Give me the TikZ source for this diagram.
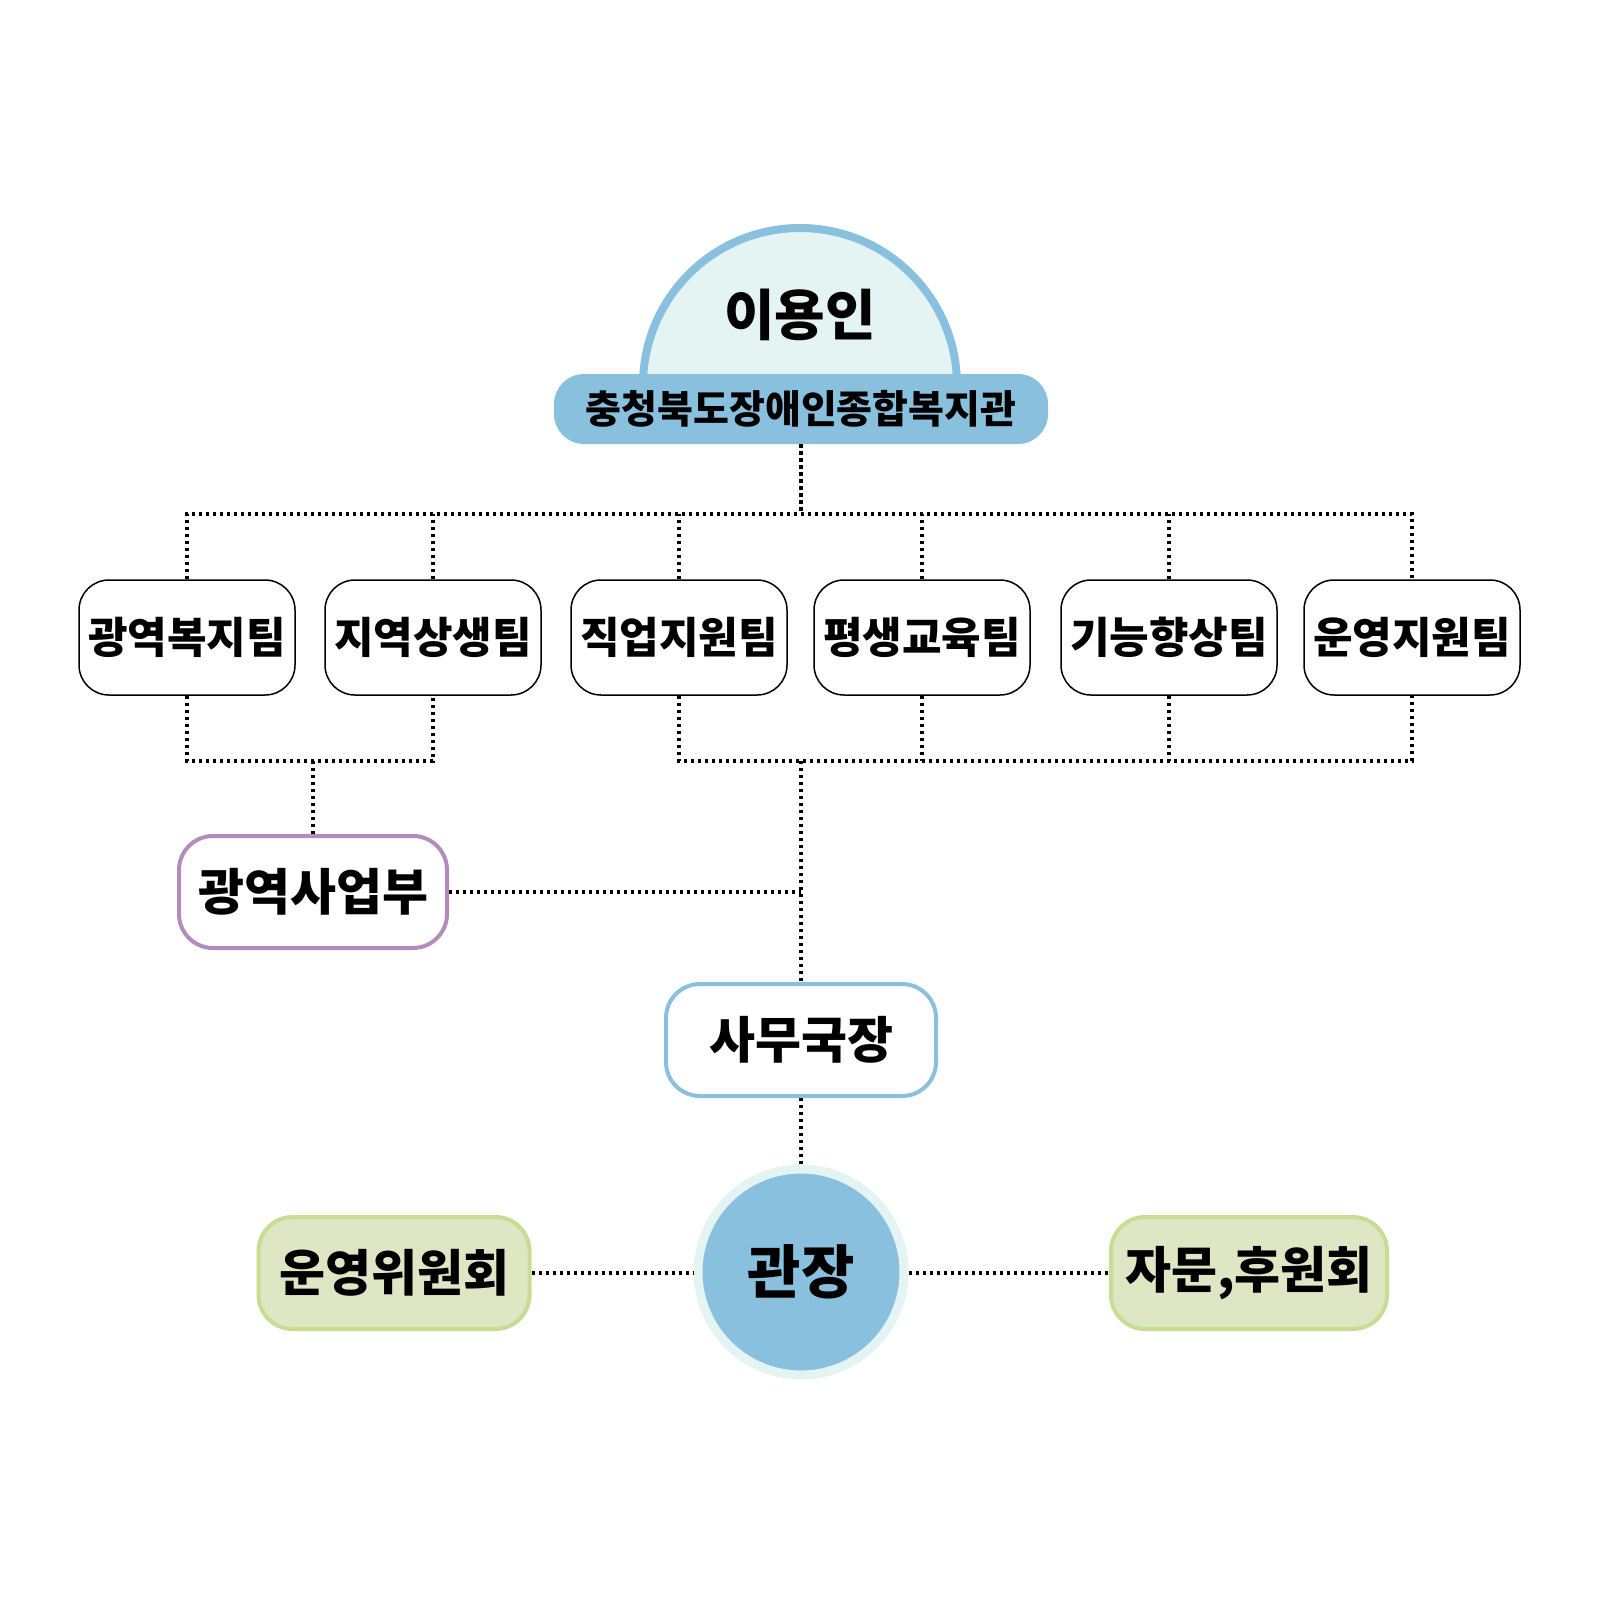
\documentclass[tikz,border=0pt]{standalone}
\usepackage{fontspec}
\newfontfamily\kr{Noto Sans CJK KR}
\definecolor{skyb}{HTML}{88C0DE}
\definecolor{palec}{HTML}{E3F4F3}
\definecolor{purp}{HTML}{B28CBD}
\definecolor{olivef}{HTML}{DFE6C4}
\definecolor{oliveb}{HTML}{C6DD93}
\begin{document}
\begin{tikzpicture}[x=1pt,y=-1pt,
  dotl/.style={line width=3.4pt, dash pattern=on 3.4pt off 3.6pt, black},
  team/.style={draw=black, line width=1.5pt, fill=white, rounded corners=30pt,
    minimum width=216pt, minimum height=115pt, inner sep=0pt,
    font=\kr\bfseries\fontsize{43}{49}\selectfont},
  midbox/.style={fill=white, line width=4pt, rounded corners=34pt,
    minimum height=112pt, inner sep=0pt,
    font=\kr\bfseries\fontsize{50}{57}\selectfont},
  greenbox/.style={midbox, fill=olivef, draw=oliveb}
]
\useasboundingbox (0,0) rectangle (1600,1600);

% arch
\begin{scope}
  \clip (600,180) rectangle (1000,390);
  \draw[skyb, fill=palec, line width=8pt] (800,385) circle[radius=157pt];
\end{scope}
\node[font=\kr\bfseries\fontsize{55}{62}\selectfont] (user) at (800,315) {이용인};
\node[fill=skyb, rounded corners=30pt, minimum width=494pt, minimum height=70pt,
  inner sep=0pt, font=\kr\bfseries\fontsize{39}{45}\selectfont] (org) at (801,409) {충청북도장애인종합복지관};

% teams
\node[team] (t1) at (187,637.5) {광역복지팀};
\node[team] (t2) at (433,637.5) {지역상생팀};
\node[team] (t3) at (679,637.5) {직업지원팀};
\node[team] (t4) at (922,637.5) {평생교육팀};
\node[team] (t5) at (1169,637.5) {기능향상팀};
\node[team] (t6) at (1412,637.5) {운영지원팀};

% middle
\node[midbox, draw=purp, minimum width=268pt] (gy) at (313,892) {광역사업부};
\node[midbox, draw=skyb, minimum width=270pt] (sm) at (801,1040) {사무국장};
\node[circle, fill=skyb, draw=palec, line width=9pt, minimum size=206pt, inner sep=0pt,
  font=\kr\bfseries\fontsize{58}{65}\selectfont] (gj) at (801,1272) {관장};
\node[greenbox, minimum width=271pt] (ops) at (394,1273) {운영위원회};
\node[greenbox, minimum width=276pt] (adv) at (1249,1273) {자문,후원회};

% junctions
\coordinate (tj) at (801,514);
\coordinate (lj) at (310,761);
\coordinate (rj) at (801,761);

% connectors
\draw[dotl] (org.south) -- (tj);
\draw[dotl] (t1.north) -- (t1.north |- tj) -- (t6.north |- tj) -- (t6.north);
\foreach \t in {t2,t3,t4,t5} \draw[dotl] (\t.north) -- (\t.north |- tj);

\draw[dotl] (t1.south) -- (t1.south |- lj) -- (t2.south |- lj) -- (t2.south);
\draw[dotl] (gy.north |- lj) -- (gy.north);

\draw[dotl] (t3.south) -- (t3.south |- rj) -- (t6.south |- rj) -- (t6.south);
\foreach \t in {t4,t5} \draw[dotl] (\t.south) -- (\t.south |- rj);
\draw[dotl] (rj) -- (sm.north);
\draw[dotl] (gy.east) -- (gy.east -| rj);

\draw[dotl] (sm.south) -- (gj.north);
\draw[dotl] (ops.east) -- (ops.east -| gj.west);
\draw[dotl] (adv.west -| gj.east) -- (adv.west);
\end{tikzpicture}
\end{document}
